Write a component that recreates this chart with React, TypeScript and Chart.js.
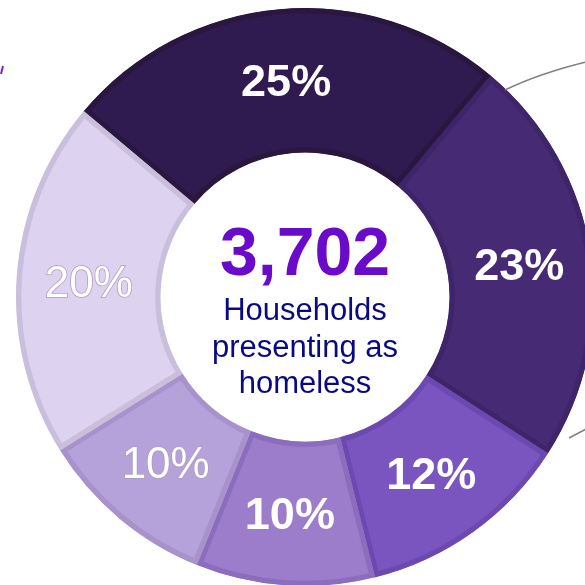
import React, { useEffect, useRef } from "react";
import { Chart, registerables } from "chart.js";

Chart.register(...registerables);

const categories = ["Segment A", "Segment B", "Segment C", "Segment D", "Segment E", "Segment F"];
const shares = [25, 23, 12, 10, 10, 20];
const shareLabels = ["25%", "23%", "12%", "10%", "10%", "20%"];
const labelBold = [true, true, true, true, false, false];
const fillColors = ["#2F1B4F", "#472A74", "#7A55C0", "#9B7DCB", "#B6A2DA", "#DDD2EF"];
const borderColors = ["#29173F", "#3E2468", "#6C49B0", "#8C6CBD", "#A892CC", "#C9BEDB"];
const totalValue = "3,702";
const centerLines = ["Households", "presenting as", "homeless"];

const overlayPlugin = {
  id: "overlay",
  afterDatasetsDraw(chart: any) {
    const ctx = chart.ctx;
    const meta = chart.getDatasetMeta(0);
    ctx.save();
    meta.data.forEach((el: any, i: number) => {
      const p = el.getCenterPoint();
      const bold = labelBold[i];
      ctx.font = `${bold ? "bold 45px" : "44px"} "Liberation Sans", Arial, sans-serif`;
      ctx.textAlign = "center";
      ctx.textBaseline = "middle";
      if (!bold) {
        ctx.lineWidth = 1.5;
        ctx.strokeStyle = "#A99DBD";
        ctx.strokeText(shareLabels[i], p.x, p.y + 3);
      }
      ctx.fillStyle = "#FFFFFF";
      ctx.fillText(shareLabels[i], p.x, p.y + 3);
    });
    const cx = (chart.chartArea.left + chart.chartArea.right) / 2;
    const cy = (chart.chartArea.top + chart.chartArea.bottom) / 2;
    ctx.textAlign = "center";
    ctx.textBaseline = "alphabetic";
    ctx.fillStyle = "#6A0BCB";
    ctx.font = 'bold 68px "Liberation Sans", Arial, sans-serif';
    ctx.fillText(totalValue, cx, cy - 22);
    ctx.fillStyle = "#0A0A80";
    ctx.font = '31px "Liberation Sans", Arial, sans-serif';
    centerLines.forEach((t, i) => {
      ctx.fillText(t, cx, cy + 23 + i * 36.5);
    });
    // callout lines on the right
    ctx.strokeStyle = "#808080";
    ctx.lineWidth = 1.5;
    ctx.beginPath();
    ctx.moveTo(505, 90);
    ctx.quadraticCurveTo(540, 73, 590, 61);
    ctx.stroke();
    ctx.beginPath();
    ctx.moveTo(569, 438);
    ctx.lineTo(590, 427);
    ctx.stroke();
    // small mark on the left
    ctx.strokeStyle = "#7030D0";
    ctx.lineWidth = 2;
    ctx.beginPath();
    ctx.moveTo(1, 74);
    ctx.lineTo(3, 66);
    ctx.stroke();
    ctx.restore();
  },
};

export default function App() {
  const ref = useRef<HTMLCanvasElement | null>(null);
  useEffect(() => {
    document.body.style.overflow = "hidden";
    const chart = new Chart(ref.current as HTMLCanvasElement, {
      type: "doughnut",
      data: {
        labels: categories,
        datasets: [
          {
            data: shares,
            backgroundColor: fillColors,
            borderColor: borderColors,
            borderWidth: 5,
            borderAlign: "inner",
          } as any,
        ],
      },
      options: {
        responsive: false,
        animation: false,
        rotation: -50,
        cutout: "50%",
        layout: { padding: { left: 16, top: 8, right: 6, bottom: 4 } },
        plugins: { legend: { display: false }, tooltip: { enabled: false } },
      } as any,
      plugins: [overlayPlugin],
    });
    return () => chart.destroy();
  }, []);
  return (
    <div style={{ position: "fixed", left: 0, top: 0, width: 600, height: 590 }}>
      <canvas ref={ref} width={600} height={590} style={{ width: 600, height: 590 }} />
    </div>
  );
}
